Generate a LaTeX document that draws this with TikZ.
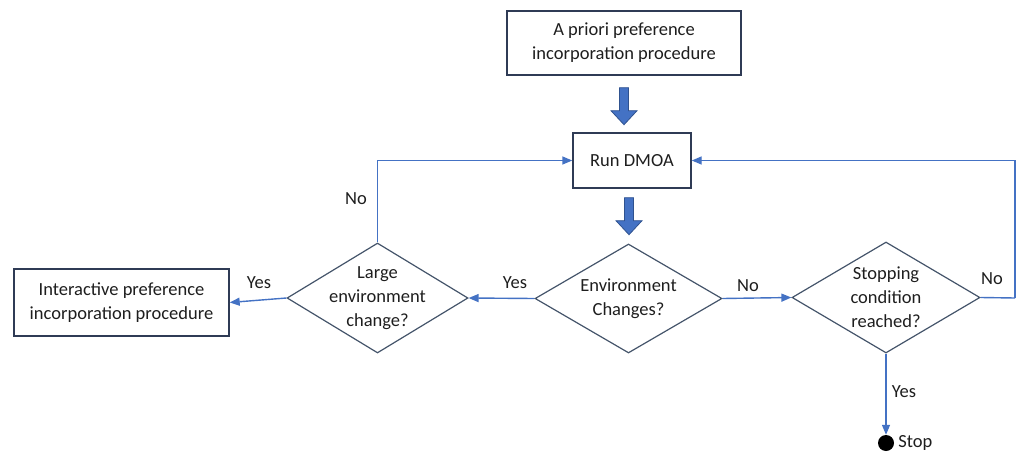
\documentclass[tikz,border=0pt]{standalone}
\usepackage{fontspec}
\setmainfont{Carlito}
\usetikzlibrary{shapes.geometric,arrows.meta,calc}
\definecolor{boxline}{HTML}{2F3B55}
\definecolor{dialine}{HTML}{44546A}
\definecolor{flow}{HTML}{4472C4}
\definecolor{flowdark}{HTML}{2F528F}
\definecolor{txt}{HTML}{1E1E1E}
\tikzset{
  every node/.style={text=txt, font=\fontsize{18.5}{24}\selectfont},
  procbox/.style={draw=boxline, line width=1.4pt, fill=white, align=center, inner sep=0pt},
  decision/.style={draw=dialine, line width=1.2pt, diamond, inner sep=0pt},
  dtext/.style={align=center, inner sep=0pt},
  flowline/.style={draw=flow, line width=1.4pt, -{Triangle[length=10pt,width=8pt]}},
  plainline/.style={draw=flow, line width=1.4pt},
  lbl/.style={inner sep=0pt},
  bigarrow/.pic={
    \draw[fill=flow, draw=flowdark, line width=0.8pt]
      (-4.5,0) -- (-4.5,23) -- (-13,23) -- (0,37) -- (13,23) -- (4.5,23) -- (4.5,0) -- cycle;
  }
}
\begin{document}
\begin{tikzpicture}[x=1pt,y=-1pt]
\useasboundingbox (0,0) rectangle (1019,452);

% process boxes
\node[procbox, minimum width=234pt, minimum height=64pt] (prior) at (624,43)
  {A priori preference\\incorporation procedure};
\node[procbox, minimum width=118pt, minimum height=55pt] (run) at (632,160.5) {Run DMOA};
\node[procbox, minimum width=215pt, minimum height=67pt] (inter) at (121.5,302.5)
  {Interactive preference\\incorporation procedure};

% decisions (outline first, wording on top)
\node[decision, minimum width=187pt, minimum height=109pt] (env) at (628.5,298.5) {};
\node[dtext] (envt) at (env.center) {Environment\\Changes?};
\node[decision, minimum width=181pt, minimum height=110pt] (large) at (377.5,298) {};
\node[dtext] (larget) at (large.center) {Large\\environment\\change?};
\node[decision, minimum width=188pt, minimum height=111pt] (stopc) at (886,297.5) {};
\node[dtext] (stopct) at (stopc.center) {Stopping\\condition\\reached?};

% terminal
\node[circle, fill=black, minimum size=16pt, inner sep=0pt] (stop) at (886,443) {};
\node[lbl, anchor=west] (stoptxt) at ($(stop.east)+(4,0)$) {Stop};

% block arrows
\pic at ($(prior.south)+(0,12)$) {bigarrow};
\pic at ($(run.south)+(-3,9)$) {bigarrow};

% connectors
\draw[flowline] (env.west) -- (large.east);
\draw[flowline] (large.west) -- (inter.east);
\draw[flowline] (env.east) -- (stopc.west);
\draw[flowline] (large.north) |- (run.west);
\coordinate (rturn) at (1015,298);
\draw[plainline] (stopc.east) -- (rturn);
\draw[flowline] (rturn) |- (run.east);
\draw[flowline] (stopc.south) -- (stop.north);

% branch labels
\node[lbl] (l1) at (356,199) {No};
\node[lbl] (l2) at (259,283) {Yes};
\node[lbl] (l3) at (515,283) {Yes};
\node[lbl] (l4) at (748,286) {No};
\node[lbl] (l5) at (992,279) {No};
\node[lbl] (l6) at (904,392) {Yes};
\end{tikzpicture}
\end{document}
